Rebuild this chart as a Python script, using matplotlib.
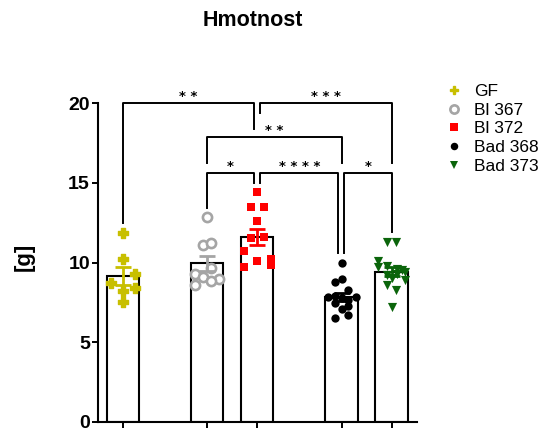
import numpy as np
import matplotlib
matplotlib.use("Agg")
import matplotlib.pyplot as plt
from matplotlib.lines import Line2D

plt.rcParams["font.family"] = ["Liberation Sans", "DejaVu Sans"]

# ---- data ----
groups = ["GF", "Bl 367", "Bl 372", "Bad 368", "Bad 373"]

gf = [11.83, 10.2, 9.28, 8.69, 8.42, 8.21, 7.52]
bl367 = [12.84, 11.08, 11.25, 9.63, 9.26, 9.07, 8.98, 8.84, 8.59]
bl372 = [14.45, 13.47, 13.5, 12.62, 11.52, 11.62, 10.72, 9.74, 10.11, 10.2, 9.84]
bad368 = [10.0, 8.95, 8.75, 8.3, 7.85, 7.85, 7.9, 7.8, 7.65, 7.45, 7.25, 7.05, 6.7, 6.5]
bad373 = [11.31, 11.31, 10.11, 9.74, 9.8, 9.57, 9.53, 9.42, 9.21, 9.28, 8.9, 8.59, 8.27, 7.22, 9.0]
values = [gf, bl367, bl372, bad368, bad373]

# significance: (group a, group b, label)
sig_pairs = [(0, 2, "**"), (2, 4, "***"), (1, 3, "**"),
             (1, 2, "*"), (2, 3, "****"), (3, 4, "*")]

yticks = [0, 5, 10, 15, 20]

# ---- layout / style ----
xpos = [0, 1.68, 2.68, 4.38, 5.38]
jitter = [
    [0, 0, 0.24, -0.24, 0.24, 0, 0],
    [0, -0.08, 0.08, 0.08, -0.23, -0.07, 0.25, 0.08, -0.23],
    [0, -0.12, 0.15, 0, -0.12, 0.15, -0.25, -0.25, 0, 0.28, 0.28],
    [0, 0, -0.13, 0.13, -0.28, 0.28, -0.13, 0, 0.13, -0.13, 0.13, 0, 0.13, -0.13],
    [-0.1, 0.09, -0.27, -0.27, -0.1, 0.1, 0.2, 0.27, -0.1, 0.1, 0.27, -0.1, 0.09, 0, 0],
]
colors = ["#C8BF00", "#A5A5A5", "#FF0000", "#000000", "#0B650B"]
markers = ["P", "o", "s", "o", "v"]
msizes = [7.0, 6.6, 6.0, 6.0, 6.6]
faces = ["#C8BF00", "white", "#FF0000", "#000000", "#0B650B"]
mews = [1.0, 1.9, 0, 0, 0]

# bracket geometry: line level, leg ends, leg x nudges
brackets = [
    (20.0, 12.45, 18.4, 0, -0.05),
    (20.0, 19.37, 16.27, 0.07, 0),
    (17.86, 16.27, 16.27, 0, 0),
    (15.64, 13.4, 15.0, 0, -0.05),
    (15.64, 15.0, 10.57, 0.07, -0.07),
    (15.64, 10.57, 11.93, 0.05, 0),
]

fig = plt.figure(figsize=(5.42, 4.29), dpi=100)
W, H = 542, 429
ax = fig.add_axes([98.3 / W, 1 - 421.7 / H, (416.7 - 98.3) / W, (421.7 - 103.3) / H])

lw = 1.5
for i, vals in enumerate(values):
    vals = np.array(vals)
    m = vals.mean()
    sem = vals.std(ddof=1) / np.sqrt(len(vals))
    ax.bar(xpos[i], m, width=0.65, color="white", edgecolor="black", linewidth=lw, zorder=1)
    ax.scatter(xpos[i] + np.array(jitter[i]), vals, s=msizes[i] ** 2, marker=markers[i],
               facecolor=faces[i], edgecolor=colors[i], linewidths=mews[i], zorder=3,
               clip_on=False)
    ax.errorbar(xpos[i], m, yerr=sem, color=colors[i], capsize=5.5, elinewidth=2.0,
                capthick=2.0, zorder=4)

for (a, b, lab), (yl, ya, yb, da, db) in zip(sig_pairs, brackets):
    xa, xb = xpos[a] + da, xpos[b] + db
    ax.plot([xa, xa, xb, xb], [ya, yl, yl, yb], color="black", lw=1.4, clip_on=False, zorder=5)
    ax.text((xa + xb) / 2, yl + 0.2, " ".join(lab), ha="center", va="baseline",
            fontsize=9.5, family="DejaVu Sans", fontweight="bold", clip_on=False)

ax.set_xlim(-0.49, 5.88)
ax.set_ylim(0, 20)
ax.set_yticks(yticks)
ax.set_yticklabels([str(t) for t in yticks], fontsize=14, fontweight="bold")
ax.set_xticks(xpos)
ax.set_xticklabels([])
ax.tick_params(axis="both", direction="out", length=4.5, width=1.4, pad=1.5)
for s in ["top", "right"]:
    ax.spines[s].set_visible(False)
for s in ["left", "bottom"]:
    ax.spines[s].set_linewidth(1.5)

ax.set_ylabel("[g]", fontsize=16, fontweight="bold")
ax.yaxis.set_label_coords(-0.2, 0.518)

fig.text(252.5 / W, 1 - 20 / H, "Hmotnost", ha="center", va="center",
         fontsize=15.5, fontweight="bold")

handles = [Line2D([], [], linestyle="none", marker=markers[i], markersize=msizes[i] * 0.9,
                  markerfacecolor=faces[i], markeredgecolor=colors[i],
                  markeredgewidth=mews[i]) for i in range(len(groups))]
fig.legend(handles, groups, loc="upper left", bbox_to_anchor=(447 / W, 1 - 84 / H),
           frameon=False, fontsize=12.5, handlelength=0.8, handletextpad=0.75,
           labelspacing=0.2, borderpad=0, borderaxespad=0)

fig.savefig("out.png", dpi=100)
